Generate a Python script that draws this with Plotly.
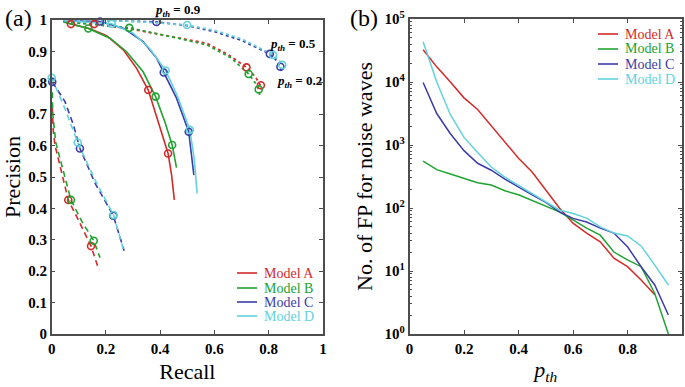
import plotly.graph_objects as go

FONT = "Liberation Serif"
AX = "#4d4d4d"
W, H = 685, 387

models = ["Model A", "Model B", "Model C", "Model D"]
colors = ["#D42A2A", "#21A332", "#3C3CAA", "#62D2DC"]

# ---------- Panel (a): precision-recall curves ----------
# solid curves
A_solid_recall = [0.043, 0.071, 0.141, 0.2025, 0.264, 0.313, 0.356, 0.392, 0.429, 0.442, 0.452]
A_solid_prec = [0.995, 0.987, 0.972, 0.950, 0.905, 0.846, 0.777, 0.676, 0.575, 0.506, 0.427]
B_solid_recall = [0.043, 0.135, 0.215, 0.276, 0.337, 0.383, 0.417, 0.444, 0.460]
B_solid_prec = [0.994, 0.973, 0.942, 0.899, 0.835, 0.756, 0.676, 0.602, 0.530]
C_solid_recall = [0.043, 0.178, 0.264, 0.337, 0.387, 0.413, 0.460, 0.505, 0.515, 0.524]
C_solid_prec = [0.998, 0.995, 0.974, 0.931, 0.878, 0.833, 0.751, 0.644, 0.570, 0.506]
D_solid_recall = [0.043, 0.221, 0.300, 0.360, 0.420, 0.465, 0.509, 0.525, 0.536]
D_solid_prec = [0.998, 0.988, 0.958, 0.910, 0.839, 0.755, 0.650, 0.560, 0.448]

# dotted curves
A_dot_recall = [0.05, 0.157, 0.30, 0.45, 0.571, 0.65, 0.718, 0.75, 0.771, 0.777]
A_dot_prec = [0.995, 0.987, 0.970, 0.945, 0.926, 0.890, 0.849, 0.820, 0.792, 0.780]
B_dot_recall = [0.05, 0.286, 0.45, 0.571, 0.66, 0.726, 0.75, 0.763, 0.767]
B_dot_prec = [0.994, 0.975, 0.945, 0.921, 0.880, 0.828, 0.800, 0.779, 0.759]
C_dot_recall = [0.05, 0.20, 0.386, 0.50, 0.60, 0.70, 0.804, 0.83, 0.843, 0.847]
C_dot_prec = [0.999, 0.998, 0.994, 0.982, 0.963, 0.935, 0.892, 0.870, 0.851, 0.835]
D_dot_recall = [0.05, 0.30, 0.499, 0.60, 0.70, 0.816, 0.84, 0.850]
D_dot_prec = [0.999, 0.996, 0.984, 0.967, 0.940, 0.889, 0.870, 0.857]

# dashed curves
A_dash_recall = [0.002, 0.006, 0.012, 0.037, 0.061, 0.10, 0.145, 0.174]
A_dash_prec = [0.720, 0.644, 0.602, 0.512, 0.427, 0.360, 0.280, 0.204]
B_dash_recall = [0.002, 0.004, 0.015, 0.040, 0.071, 0.11, 0.155, 0.178]
B_dash_prec = [0.770, 0.700, 0.610, 0.530, 0.427, 0.360, 0.297, 0.243]
C_dash_recall = [0.002, 0.049, 0.080, 0.104, 0.160, 0.227, 0.267]
C_dash_prec = [0.803, 0.740, 0.666, 0.591, 0.480, 0.377, 0.265]
D_dash_recall = [0.000, 0.050, 0.096, 0.160, 0.228, 0.264]
D_dash_prec = [0.816, 0.715, 0.610, 0.490, 0.379, 0.270]

# p_th markers (0.9, 0.5, 0.2) on each curve
A_solid_mk = ([0.071, 0.356, 0.429], [0.987, 0.777, 0.575])
B_solid_mk = ([0.135, 0.383, 0.444], [0.973, 0.756, 0.602])
C_solid_mk = ([0.178, 0.413, 0.505], [0.995, 0.833, 0.644])
D_solid_mk = ([0.221, 0.420, 0.509], [0.988, 0.839, 0.650])
A_dot_mk = ([0.157, 0.718, 0.771], [0.987, 0.849, 0.792])
B_dot_mk = ([0.286, 0.726, 0.763], [0.975, 0.828, 0.779])
C_dot_mk = ([0.386, 0.804, 0.843], [0.994, 0.892, 0.851])
D_dot_mk = ([0.499, 0.816, 0.850], [0.984, 0.889, 0.857])
A_dash_mk = ([0.061, 0.145], [0.427, 0.280])
B_dash_mk = ([0.071, 0.155], [0.427, 0.297])
C_dash_mk = ([0.002, 0.104, 0.227], [0.803, 0.591, 0.377])
D_dash_mk = ([0.000, 0.096, 0.228], [0.816, 0.610, 0.379])

# ---------- Panel (b): false positives vs p_th ----------
pth = [0.05, 0.10, 0.15, 0.20, 0.25, 0.30, 0.35, 0.40, 0.45, 0.50,
       0.55, 0.60, 0.65, 0.70, 0.75, 0.80, 0.85, 0.90, 0.95]
fp_A = [32400, 17400, 10000, 5600, 3670, 2000, 1120, 617, 372, 190,
        100, 57.5, 40, 29, 16, 11.7, 7.2, 4.2, None]
fp_B = [557, 407, 347, 295, 251, 232, 188, 162, 132, 107,
        87, 65, 48, 37, 20, 15, 11.7, 4.4, 1.0]
fp_C = [9800, 3160, 1510, 813, 513, 398, 288, 214, 162, 123,
        87, 68.5, 60, 48, 40, 24.3, 11.7, 6.0, 2.0]
fp_D = [43600, 10000, 3020, 1320, 760, 447, 309, 229, 170, 129,
        93, 82, 69, 50, 40, 36, 25, 12.4, 6.0]

solid = [(A_solid_recall, A_solid_prec), (B_solid_recall, B_solid_prec),
         (C_solid_recall, C_solid_prec), (D_solid_recall, D_solid_prec)]
dotted = [(A_dot_recall, A_dot_prec), (B_dot_recall, B_dot_prec),
          (C_dot_recall, C_dot_prec), (D_dot_recall, D_dot_prec)]
dashed = [(A_dash_recall, A_dash_prec), (B_dash_recall, B_dash_prec),
          (C_dash_recall, C_dash_prec), (D_dash_recall, D_dash_prec)]
marks = [A_solid_mk, B_solid_mk, C_solid_mk, D_solid_mk,
         A_dot_mk, B_dot_mk, C_dot_mk, D_dot_mk,
         A_dash_mk, B_dash_mk, C_dash_mk, D_dash_mk]
fps = [fp_A, fp_B, fp_C, fp_D]

fig = go.Figure()

for i, m in enumerate(models):
    c = colors[i]
    fig.add_trace(go.Scatter(x=dashed[i][0], y=dashed[i][1], mode="lines",
                             line=dict(color=c, width=1.6, dash="6px,4px"),
                             showlegend=False, xaxis="x", yaxis="y"))
    fig.add_trace(go.Scatter(x=dotted[i][0], y=dotted[i][1], mode="lines",
                             line=dict(color=c, width=1.8, dash="dot"),
                             showlegend=False, xaxis="x", yaxis="y"))
    fig.add_trace(go.Scatter(x=solid[i][0], y=solid[i][1], mode="lines",
                             line=dict(color=c, width=1.6), name=m,
                             showlegend=False, xaxis="x", yaxis="y"))

for j, mk in enumerate(marks):
    c = colors[j % 4]
    fig.add_trace(go.Scatter(x=mk[0], y=mk[1], mode="markers",
                             marker=dict(symbol="circle-open", size=7, color=c,
                                         line=dict(width=1.6, color=c)),
                             cliponaxis=False, showlegend=False,
                             xaxis="x", yaxis="y"))

for i, m in enumerate(models):
    c = colors[i]
    fig.add_trace(go.Scatter(x=pth, y=fps[i], mode="lines",
                             line=dict(color=c, width=1.5), name=m,
                             showlegend=False, xaxis="x2", yaxis="y2"))

tickfont = dict(family=FONT, size=15, color="black", weight="bold")
titlefont = dict(family=FONT, size=22, color="black")
common = dict(showline=True, linecolor=AX, linewidth=1.5, mirror="ticks",
              ticks="inside", ticklen=4, tickwidth=1.2, tickcolor=AX,
              showgrid=False, zeroline=False, tickfont=tickfont, automargin=False)

decades = [1, 10, 100, 1000, 10000, 100000]
decade_txt = ["<b>10<sup>%d</sup></b>" % k for k in range(6)]
minor_vals = [d * k for d in decades[:-1] for k in range(2, 10)]


def px(x):
    return x / W


def py(y):
    return 1 - y / H


# manual legends (position in pixels: line start, line end, text start, rows)
legend_boxes = [(237, 257, 262, [273, 288, 302, 316]),
                (598, 618, 623, [34, 49, 64, 79])]
shapes, annotations = [], []
for (x0, x1, xt, rows) in legend_boxes:
    for k, m in enumerate(models):
        shapes.append(dict(type="line", xref="paper", yref="paper",
                           x0=px(x0), x1=px(x1), y0=py(rows[k]), y1=py(rows[k]),
                           line=dict(color=colors[k], width=1.6)))
        annotations.append(dict(text=m, x=px(xt), y=py(rows[k]), xref="paper", yref="paper",
                                xanchor="left", yanchor="middle", showarrow=False,
                                font=dict(family=FONT, size=14, color=colors[k])))

pth_lbl = "<b><i>p</i></b><sub><b><i>th</i></b></sub><b> = %s</b>"
annotations += [
    dict(text="(a)", x=px(3), y=py(3), xref="paper", yref="paper",
         xanchor="left", yanchor="top", showarrow=False,
         font=dict(family=FONT, size=24, color="black")),
    dict(text="(b)", x=px(348), y=py(3), xref="paper", yref="paper",
         xanchor="left", yanchor="top", showarrow=False,
         font=dict(family=FONT, size=24, color="black")),
    dict(text=pth_lbl % "0.9", x=px(178), y=py(11), xref="paper", yref="paper",
         xanchor="center", yanchor="middle", showarrow=False,
         font=dict(family=FONT, size=13, color="black")),
    dict(text=pth_lbl % "0.5", x=px(293), y=py(44), xref="paper", yref="paper",
         xanchor="center", yanchor="middle", showarrow=False,
         font=dict(family=FONT, size=13, color="black")),
    dict(text=pth_lbl % "0.2", x=px(299), y=py(81), xref="paper", yref="paper",
         xanchor="center", yanchor="middle", showarrow=False,
         font=dict(family=FONT, size=13, color="black")),
]

fig.update_layout(
    width=W, height=H,
    margin=dict(l=0, r=0, t=0, b=0),
    paper_bgcolor="white", plot_bgcolor="white",
    showlegend=False,
    xaxis=dict(domain=[px(51.7), px(323)], range=[0, 1],
               tickvals=[0, 0.2, 0.4, 0.6, 0.8, 1],
               ticktext=["0", "0.2", "0.4", "0.6", "0.8", "1"],
               title=dict(text="Recall", font=titlefont, standoff=8), **common),
    yaxis=dict(domain=[py(334), py(20)], range=[0, 1],
               tickvals=[i / 10 for i in range(11)],
               ticktext=["0", "0.1", "0.2", "0.3", "0.4", "0.5", "0.6", "0.7", "0.8", "0.9", "1"],
               title=dict(text="Precision", font=titlefont, standoff=6), **common),
    xaxis2=dict(domain=[px(409.5), px(682)], range=[0, 1], anchor="y2",
                tickvals=[0, 0.2, 0.4, 0.6, 0.8, 1],
                ticktext=["0", "0.2", "0.4", "0.6", "0.8", "1"],
                title=dict(text="<i>p<sub>th</sub></i>", font=titlefont, standoff=6), **common),
    yaxis2=dict(domain=[py(334), py(19)], type="log", range=[0, 5], anchor="x2",
                tickvals=decades, ticktext=decade_txt,
                minor=dict(ticks="inside", ticklen=2.5, tickcolor=AX,
                           tickmode="array", tickvals=minor_vals),
                title=dict(text="No. of FP for noise waves", font=titlefont, standoff=6), **common),
    shapes=shapes,
    annotations=annotations,
)

fig.write_html("out.html", config={"displayModeBar": False},
               post_script="document.body.style.margin='0';document.body.style.overflow='hidden';")
